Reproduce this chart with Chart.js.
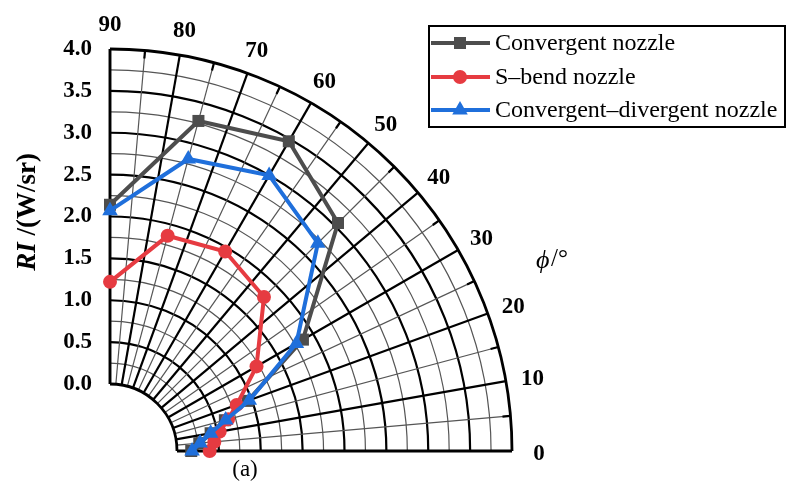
<!DOCTYPE html>
<html lang="en">
<head>
<meta charset="utf-8">
<title>RI polar plot</title>
<script src="https://cdn.jsdelivr.net/npm/chart.js@4.4.0/dist/chart.umd.min.js"></script>
<style>
    html, body { margin: 0; padding: 0; background: #fff; }
</style>
</head>
<body>
<canvas id="myChart" width="787" height="496"></canvas>
<script>
// azimuth angle phi (deg) and radiant intensity RI (W/sr)
var angles = [0, 5, 10, 15, 20, 30, 45, 60, 75, 90];
var riConvergent = [0.17, 0.27, 0.42, 0.62, 0.95, 1.86, 3.05, 3.47, 3.28, 2.14];
var riSbend      = [0.39, 0.45, 0.53, 0.66, 0.81, 1.22, 1.80, 1.95, 1.86, 1.22];
var riConvDiv    = [0.18, 0.28, 0.42, 0.63, 0.97, 1.77, 2.71, 3.00, 2.81, 2.07];

var seriesNames = ['Convergent nozzle', 'S\u2013bend nozzle', 'Convergent\u2013divergent nozzle'];
var radialTicks = [0, 0.5, 1, 1.5, 2, 2.5, 3, 3.5, 4];
var angleTicks = [0, 10, 20, 30, 40, 50, 60, 70, 80, 90];

var HOLE = 0.8;  // empty inner radius, in W/sr
var RMAX = 4;
var SERIF = "'Liberation Serif', 'Times New Roman', serif";

// polar -> plane, origin of the polar plot sits at (0, -HOLE)
function toXY(phi, v) {
    var t = phi * Math.PI / 180;
    return { x: (v + HOLE) * Math.cos(t), y: (v + HOLE) * Math.sin(t) - HOLE };
}
function points(vals) {
    return angles.map(function (a, i) { return toXY(a, vals[i]); });
}

var styles = [
    { color: '#4d4d4d', pointStyle: 'rect', radius: 8.5 },
    { color: '#e63b41', pointStyle: 'circle', radius: 7 },
    { color: '#1f6fdb', pointStyle: 'triangle', radius: 9 }
];

function markerPath(ctx, st, x, y) {
    ctx.beginPath();
    if (st.pointStyle === 'rect') {
        var s = st.radius * Math.SQRT1_2;
        ctx.rect(x - s, y - s, 2 * s, 2 * s);
    } else if (st.pointStyle === 'circle') {
        ctx.arc(x, y, st.radius, 0, Math.PI * 2);
    } else {
        var r = st.radius;
        ctx.moveTo(x, y - r);
        ctx.lineTo(x + r * Math.sin(2 * Math.PI / 3), y - r * Math.cos(2 * Math.PI / 3));
        ctx.lineTo(x + r * Math.sin(4 * Math.PI / 3), y - r * Math.cos(4 * Math.PI / 3));
        ctx.closePath();
    }
}

var polarGrid = {
    id: 'polarGrid',
    beforeDatasetsDraw: function (chart) {
        var ctx = chart.ctx, xs = chart.scales.x, ys = chart.scales.y;
        var ox = xs.getPixelForValue(0), oy = ys.getPixelForValue(-HOLE);
        var rad = function (v) { return xs.getPixelForValue(v + HOLE) - ox; };
        var r0 = rad(0), r1 = rad(RMAX);
        ctx.save();

        // circles every 0.25, heavy every 0.5
        for (var k = 1; k < RMAX * 4; k++) {
            var major = k % 2 === 0;
            ctx.beginPath();
            ctx.arc(ox, oy, rad(k / 4), -Math.PI / 2, 0);
            ctx.lineWidth = major ? 2.2 : 1.2;
            ctx.strokeStyle = major ? '#000' : '#555';
            ctx.stroke();
        }

        // spokes every 5 deg, heavy every 10 deg
        for (var a = 0; a <= 90; a += 5) {
            var t = a * Math.PI / 180, c = Math.cos(t), s = Math.sin(t);
            var big = a % 10 === 0;
            ctx.beginPath();
            ctx.moveTo(ox + r0 * c, oy - r0 * s);
            ctx.lineTo(ox + r1 * c, oy - r1 * s);
            ctx.lineWidth = big ? 2.2 : 1.2;
            ctx.strokeStyle = big ? '#000' : '#555';
            ctx.stroke();
            if (!big) {
                ctx.beginPath();
                ctx.moveTo(ox + (r1 - 8) * c, oy - (r1 - 8) * s);
                ctx.lineTo(ox + r1 * c, oy - r1 * s);
                ctx.lineWidth = 2.2;
                ctx.strokeStyle = '#000';
                ctx.stroke();
            }
        }

        // frame: inner and outer arc, both straight edges
        ctx.lineWidth = 2.8;
        ctx.strokeStyle = '#000';
        ctx.beginPath();
        ctx.arc(ox, oy, r1, -Math.PI / 2, 0);
        ctx.stroke();
        ctx.beginPath();
        ctx.arc(ox, oy, r0, -Math.PI / 2, 0);
        ctx.stroke();
        ctx.beginPath();
        ctx.moveTo(ox, oy - r0); ctx.lineTo(ox, oy - r1);
        ctx.moveTo(ox + r0, oy); ctx.lineTo(ox + r1, oy);
        ctx.stroke();

        // angle labels
        ctx.fillStyle = '#000';
        ctx.font = 'bold 23px ' + SERIF;
        ctx.textAlign = 'center';
        ctx.textBaseline = 'middle';
        angleTicks.forEach(function (a) {
            var t = a * Math.PI / 180;
            ctx.fillText(String(a), ox + (r1 + 27) * Math.cos(t), oy + 3 - (r1 + 27) * Math.sin(t));
        });

        // phi axis name
        ctx.font = 'italic 26px ' + SERIF;
        ctx.textAlign = 'left';
        ctx.fillText('\u03d5', ox + 426, oy - 190);
        ctx.font = '25px ' + SERIF;
        ctx.fillText('/\u00b0', ox + 441, oy - 192);

        // panel tag
        ctx.textAlign = 'center';
        ctx.font = '23px ' + SERIF;
        ctx.fillText('(a)', 245, 470);

        // radial axis name, "RI" italic
        ctx.translate(28, 212);
        ctx.rotate(-Math.PI / 2);
        ctx.textAlign = 'left';
        ctx.font = 'bold italic 27px ' + SERIF;
        var w1 = ctx.measureText('RI').width;
        ctx.font = 'bold 27px ' + SERIF;
        var w2 = ctx.measureText(' /(W/sr)').width;
        var start = -(w1 + w2) / 2;
        ctx.font = 'bold italic 27px ' + SERIF;
        ctx.fillText('RI', start, 0);
        ctx.font = 'bold 27px ' + SERIF;
        ctx.fillText(' /(W/sr)', start + w1, 0);
        ctx.restore();
    },
    afterDraw: function (chart) {
        // legend box
        var ctx = chart.ctx;
        ctx.save();
        ctx.lineWidth = 2;
        ctx.strokeStyle = '#000';
        ctx.strokeRect(429, 26, 356, 101);
        ctx.font = '24px ' + SERIF;
        ctx.textAlign = 'left';
        ctx.textBaseline = 'middle';
        var rows = [43, 77, 110];
        styles.forEach(function (st, i) {
            var y = rows[i];
            ctx.strokeStyle = st.color;
            ctx.lineWidth = 4;
            ctx.beginPath();
            ctx.moveTo(431, y); ctx.lineTo(490, y);
            ctx.stroke();
            ctx.fillStyle = st.color;
            markerPath(ctx, st, 460, y);
            ctx.fill();
            ctx.fillStyle = '#000';
            ctx.fillText(seriesNames[i], 495, y + 1);
        });
        ctx.restore();
    }
};

var seriesData = [riConvergent, riSbend, riConvDiv];
var ctx = document.getElementById('myChart').getContext('2d');
var myChart = new Chart(ctx, {
    type: 'scatter',
    data: {
        datasets: seriesData.map(function (vals, i) {
            return {
                label: seriesNames[i],
                data: points(vals),
                showLine: true,
                borderColor: styles[i].color,
                backgroundColor: styles[i].color,
                borderWidth: 4,
                pointStyle: styles[i].pointStyle,
                pointRadius: styles[i].radius,
                pointBorderWidth: 0,
                order: 2 - i,
                clip: false
            };
        })
    },
    options: {
        responsive: false,
        animation: false,
        devicePixelRatio: 1,
        layout: { padding: { top: 49, bottom: 45, left: 0, right: 275 } },
        plugins: { legend: { display: false }, tooltip: { enabled: false } },
        scales: {
            x: { type: 'linear', display: false, min: 0, max: RMAX + HOLE },
            y: {
                type: 'linear',
                min: -HOLE,
                max: RMAX,
                afterBuildTicks: function (s) {
                    s.ticks = radialTicks.map(function (v) { return { value: v }; });
                },
                afterFit: function (s) { s.width = 110; },
                grid: { display: false, drawTicks: false },
                border: { display: false },
                ticks: {
                    padding: 18,
                    color: '#000',
                    font: { family: SERIF, size: 23, weight: 'bold' },
                    callback: function (v) { return Number(v).toFixed(1); }
                }
            }
        }
    },
    plugins: [polarGrid]
});
</script>
</body>
</html>
